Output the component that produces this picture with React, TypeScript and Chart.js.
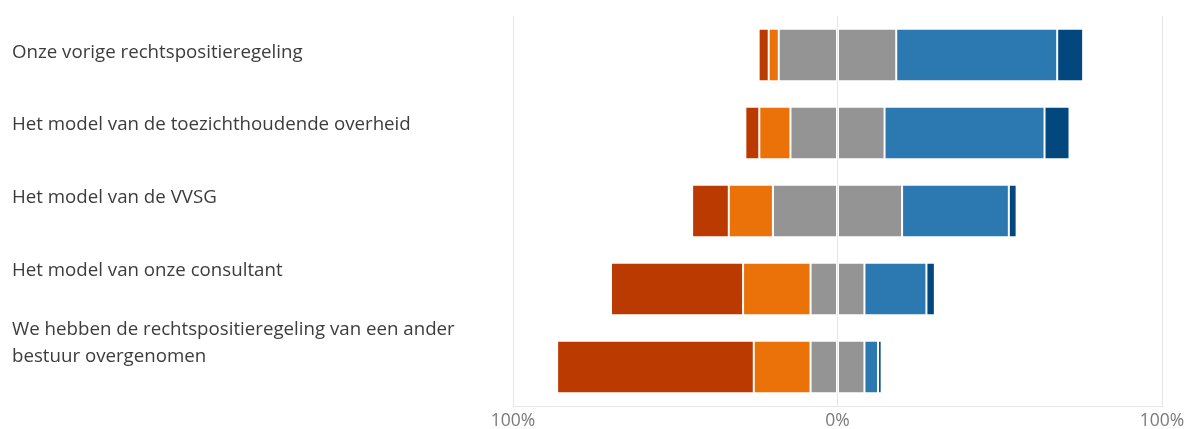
import React, { useEffect, useRef } from "react";
import { Chart, registerables } from "chart.js";

Chart.register(...registerables);

const categories: (string | string[])[] = [
  "Onze vorige rechtspositieregeling",
  "Het model van de toezichthoudende overheid",
  "Het model van de VVSG",
  "Het model van onze consultant",
  ["We hebben de rechtspositieregeling van een ander", "bestuur overgenomen"],
];

// percentages per answer category (left to right)
const stronglyDisagree = [3.1, 4.3, 11.3, 40.7, 60.6];
const disagree = [3.1, 9.6, 13.6, 20.8, 17.5];
const neutral = [36.2, 29.0, 39.8, 16.6, 16.6];
const agree = [49.6, 49.3, 32.9, 19.1, 4.2];
const stronglyAgree = [8.0, 7.7, 2.4, 2.6, 1.1];

const xTicks = [-100, 0, 100];

const COLORS = {
  sd: "#BA3A02",
  d: "#EA7209",
  n: "#949494",
  a: "#2C78B0",
  sa: "#02487E",
};

const FONT = "'Open Sans', 'Noto Sans', sans-serif";

export default function App() {
  const ref = useRef<HTMLCanvasElement | null>(null);

  useEffect(() => {
    if (!ref.current) return;
    const border = "rgba(255,255,255,0.35)";
    const common = { borderWidth: 1, borderColor: border, borderSkipped: false, yAxisID: "y", xAxisID: "x" };
    const chart = new Chart(ref.current, {
      type: "bar",
      data: {
        labels: categories.map((c) => (Array.isArray(c) ? c.join(" ") : c)),
        datasets: [
          { label: "Neutraal-", data: neutral.map((v) => -v / 2), backgroundColor: COLORS.n, ...common },
          { label: "Oneens", data: disagree.map((v) => -v), backgroundColor: COLORS.d, ...common },
          { label: "Helemaal oneens", data: stronglyDisagree.map((v) => -v), backgroundColor: COLORS.sd, ...common },
          { label: "Neutraal+", data: neutral.map((v) => v / 2), backgroundColor: COLORS.n, ...common },
          { label: "Eens", data: agree, backgroundColor: COLORS.a, ...common },
          { label: "Helemaal eens", data: stronglyAgree, backgroundColor: COLORS.sa, ...common },
        ] as any,
      },
      options: {
        indexAxis: "y",
        animation: false,
        responsive: true,
        maintainAspectRatio: false,
        datasets: { bar: { categoryPercentage: 0.67, barPercentage: 1 } },
        layout: { padding: { left: 4, top: 8, right: 27, bottom: 0 } },
        plugins: { legend: { display: false }, tooltip: { enabled: false } },
        scales: {
          x: {
            type: "linear",
            stacked: true,
            min: -100,
            max: 100,
            afterBuildTicks: (axis: any) => {
              axis.ticks = xTicks.map((v) => ({ value: v }));
            },
            afterFit: (axis: any) => {
              axis.paddingRight = 0;
              axis.paddingLeft = 0;
            },
            ticks: {
              callback: (v: any) => Math.abs(Number(v)) + "%",
              color: "#7a7a7a",
              font: { family: FONT, size: 17.5 },
              padding: 5,
            },
            grid: { color: "#e6e6e6", drawTicks: false, lineWidth: 1 },
            border: { display: true, color: "#e6e6e6" },
          },
          y: {
            type: "category",
            stacked: true,
            display: false,
          },
          yl: {
            type: "linear",
            position: "left",
            reverse: true,
            offset: false,
            min: -0.5,
            max: 4.87,
            afterBuildTicks: (axis: any) => {
              axis.ticks = categories.map((_, i) => ({ value: i }));
            },
            afterFit: (axis: any) => {
              axis.width = 501;
              axis.paddingTop = 0;
              axis.paddingBottom = 0;
            },
            ticks: {
              callback: (v: any) => categories[Number(v)] as any,
              crossAlign: "far",
              color: "#3c3c3c",
              font: { family: FONT, size: 18.7, lineHeight: 1.44 },
              autoSkip: false,
            },
            grid: { display: false, offset: false },
            border: { display: false },
          },
        } as any,
      },
    });
    return () => chart.destroy();
  }, []);

  return (
    <div style={{ position: "fixed", left: 8, top: 8, width: 1181, height: 429 }}>
      <canvas ref={ref} />
    </div>
  );
}
